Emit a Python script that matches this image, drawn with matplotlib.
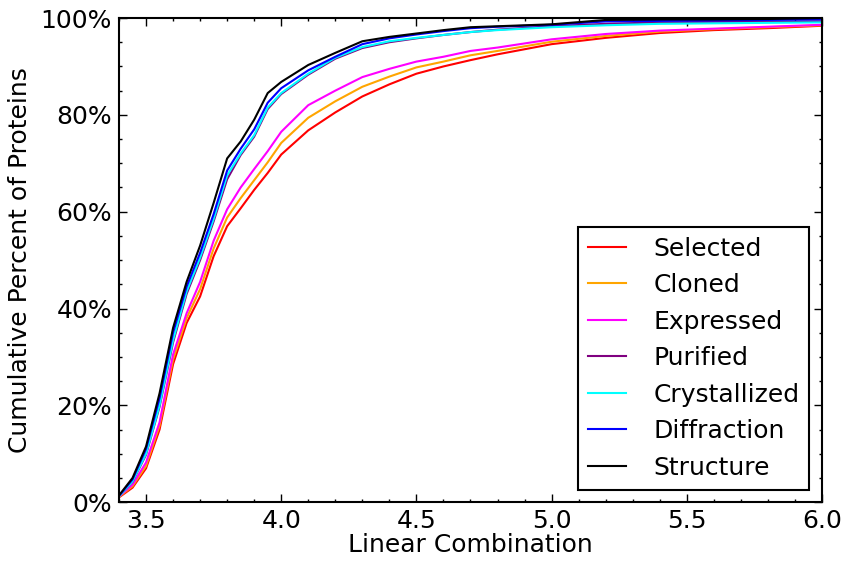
import matplotlib
matplotlib.use('Agg')
import matplotlib.pyplot as plt
from matplotlib.ticker import MultipleLocator, FormatStrFormatter

# x positions (linear combination score) where the curves were read
score = [3.40, 3.45, 3.50, 3.55, 3.60, 3.65, 3.70, 3.75, 3.80, 3.85, 3.90, 3.95,
         4.00, 4.10, 4.20, 4.30, 4.40, 4.50, 4.60, 4.70, 4.80, 5.00, 5.20, 5.40,
         5.60, 5.80, 6.00]

# cumulative percent of proteins per stage
selected = [1.0, 3.0, 7.0, 15.0, 28.5, 37.0, 42.5, 50.8, 57.0, 60.7, 64.5, 68.0,
            71.8, 76.8, 80.5, 83.8, 86.3, 88.5, 90.0, 91.3, 92.5, 94.6, 95.9, 96.9,
            97.5, 97.9, 98.4]
cloned = [1.1, 3.3, 7.5, 15.8, 29.5, 38.0, 44.0, 52.4, 58.8, 62.8, 66.5, 70.2,
          74.2, 79.4, 82.8, 85.8, 87.9, 89.8, 91.0, 92.3, 93.2, 95.1, 96.3, 97.2,
          97.7, 98.1, 98.5]
expressed = [1.2, 3.6, 8.2, 16.5, 30.5, 39.0, 45.5, 54.0, 60.5, 65.0, 68.8, 72.5,
             76.5, 82.0, 85.0, 87.8, 89.5, 91.0, 92.0, 93.2, 93.9, 95.6, 96.7, 97.4,
             97.8, 98.2, 98.6]
purified = [1.3, 4.2, 9.8, 19.7, 33.0, 43.0, 50.0, 58.0, 66.7, 71.7, 75.5, 81.2,
            84.3, 88.3, 91.6, 93.8, 95.0, 95.8, 96.5, 97.1, 97.6, 98.3, 98.8, 99.1,
            99.2, 99.2, 99.3]
crystallized = [1.2, 4.3, 10.0, 20.0, 33.5, 43.5, 50.5, 58.5, 67.5, 72.0, 75.8, 81.5,
                84.5, 88.5, 91.8, 94.0, 95.2, 95.9, 96.5, 97.1, 97.5, 98.1, 98.5, 98.8,
                98.9, 99.0, 99.1]
diffraction = [1.3, 4.7, 11.0, 21.5, 35.0, 44.5, 51.5, 59.5, 68.5, 73.0, 77.0, 82.5,
               85.5, 89.2, 92.0, 94.6, 95.8, 96.6, 97.3, 97.9, 98.2, 98.6, 99.3, 99.4,
               99.5, 99.6, 99.7]
structure = [1.4, 5.0, 11.5, 22.5, 36.0, 45.5, 53.0, 61.8, 71.0, 74.5, 79.0, 84.5,
             86.8, 90.3, 92.8, 95.2, 96.1, 96.8, 97.5, 98.1, 98.3, 98.7, 99.6, 99.7,
             99.7, 99.8, 100.0]

labels = ['Selected', 'Cloned', 'Expressed', 'Purified', 'Crystallized', 'Diffraction', 'Structure']
colors = ['red', 'orange', 'magenta', 'purple', 'cyan', 'blue', 'black']
series = [selected, cloned, expressed, purified, crystallized, diffraction, structure]

plt.rcParams['font.family'] = 'DejaVu Sans'
plt.rcParams['font.size'] = 18

fig = plt.figure(figsize=(8.5, 5.63), dpi=100)
ax = fig.add_axes([0.14, 0.108, 0.827, 0.86])

for vals, lab, col in zip(series, labels, colors):
    ax.plot(score, vals, color=col, lw=1.5, label=lab)

ax.set_xlim(3.4, 6.0)
ax.set_ylim(0, 100)
ax.xaxis.set_major_locator(MultipleLocator(0.5))
ax.xaxis.set_minor_locator(MultipleLocator(0.1))
ax.yaxis.set_major_locator(MultipleLocator(20))
ax.yaxis.set_minor_locator(MultipleLocator(5))
ax.xaxis.set_major_formatter(FormatStrFormatter('%.1f'))
ax.yaxis.set_major_formatter(FormatStrFormatter('%d%%'))
ax.tick_params(which='both', direction='in', top=True, right=True, labelsize=18)
ax.tick_params(which='major', length=6, width=1, pad=5)
ax.tick_params(which='minor', length=2.5, width=1)
for sp in ax.spines.values():
    sp.set_linewidth(1.5)

ax.set_xlabel('Linear Combination', fontsize=18, labelpad=0)
ax.set_ylabel('Cumulative Percent of Proteins', fontsize=18, labelpad=6)

leg = ax.legend(loc='lower right', fontsize=18, fancybox=False, framealpha=1,
                edgecolor='black', handlelength=1.5, handletextpad=1.1,
                labelspacing=0.5, borderpad=0.4, borderaxespad=0.5)
leg.get_frame().set_linewidth(1.5)

plt.savefig('out.png', dpi=100)
